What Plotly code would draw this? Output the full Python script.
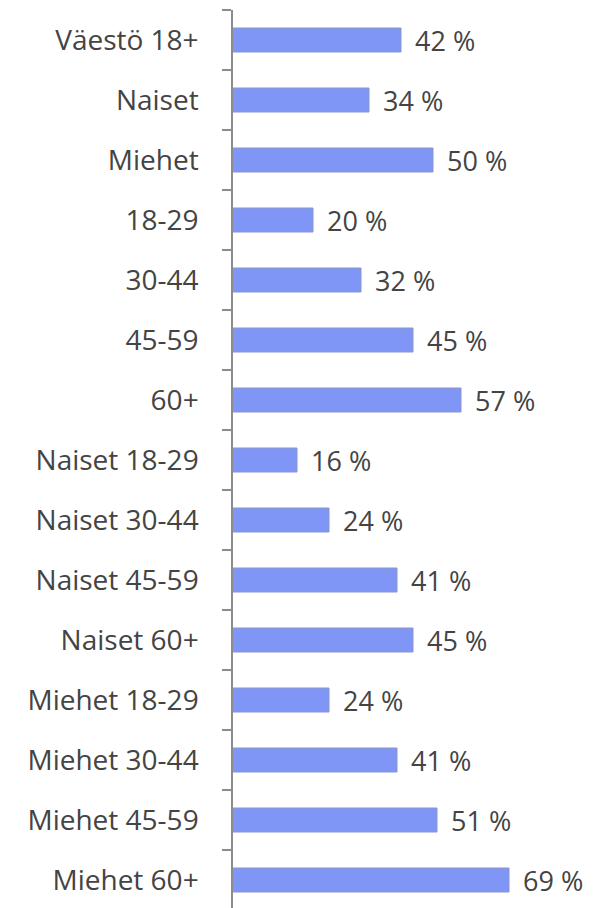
import plotly.graph_objs as go

categories = ['Väestö 18+', 'Naiset', 'Miehet', '18-29', '30-44', '45-59', '60+',
              'Naiset 18-29', 'Naiset 30-44', 'Naiset 45-59', 'Naiset 60+',
              'Miehet 18-29', 'Miehet 30-44', 'Miehet 45-59', 'Miehet 60+']
values = [42, 34, 50, 20, 32, 45, 57, 16, 24, 41, 45, 24, 41, 51, 69]

font = 'Open Sans'

fig = go.Figure(go.Bar(
    x=values, y=categories, orientation='h',
    marker=dict(color='#7f96f7', line=dict(color='#8a96c8', width=1)),
    width=0.4, hoverinfo='skip'))

# value labels to the right of each bar
for c, v in zip(categories, values):
    fig.add_annotation(x=v, y=c, text=f'{v} %', showarrow=False,
                       xanchor='left', xshift=12,
                       font=dict(family=font, size=27, color='#444444'))

# page body has an 8px margin, so shrink the figure to fit the window
fig.update_layout(
    width=589, height=900,
    margin=dict(l=225, r=0, t=2, b=0),
    paper_bgcolor='white', plot_bgcolor='white',
    showlegend=False,
    xaxis=dict(range=[0, 91], visible=False, automargin=False),
    yaxis=dict(type='category', range=[-0.5 + 898 / 60, -0.5],
               automargin=False,
               showline=True, linecolor='#8c8c8c', linewidth=1.5,
               ticks='outside', tickson='boundaries', ticklen=9,
               tickcolor='#8c8c8c', tickwidth=1.5, ticklabelstandoff=27,
               showgrid=False,
               tickfont=dict(family=font, size=28, color='#444444')),
)

fig.write_html("out.html")
